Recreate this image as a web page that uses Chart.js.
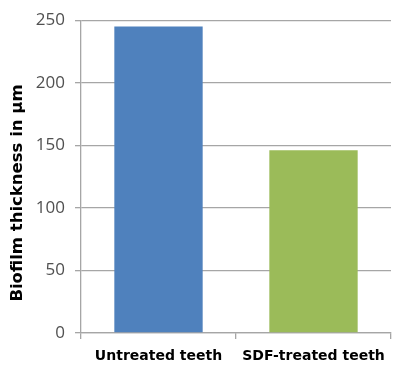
<!DOCTYPE html>
<html>
<head>
<meta charset="utf-8">
<script src="https://cdn.jsdelivr.net/npm/chart.js@4"></script>
<style>
  html, body { margin: 0; padding: 0; background: #fff; }
  #wrap { width: 400px; height: 373px; }
</style>
</head>
<body>
<div id="wrap"><canvas id="grafico" width="400" height="373"></canvas></div>
<script>
// DATI
const categorie = ['Untreated teeth', 'SDF-treated teeth'];
const spessore = [245, 146];
const coloriBarre = ['#4f81bd', '#9bbb59'];
const yTicks = [0, 50, 100, 150, 200, 250];
const titoloY = 'Biofilm thickness in µm';

const canvas = document.getElementById('grafico');

// titolo asse Y, centrato sull'altezza del grafico come in Excel
const titoloAsse = {
  id: 'titoloAsse',
  afterDraw(chart) {
    const ctx = chart.ctx;
    ctx.save();
    ctx.translate(18, 193);
    ctx.rotate(-Math.PI / 2);
    ctx.font = 'bold 16.5px "DejaVu Sans"';
    ctx.fillStyle = '#000';
    ctx.textAlign = 'center';
    ctx.textBaseline = 'middle';
    ctx.fillText(titoloY, 0, 0);
    ctx.restore();
  }
};

new Chart(canvas, {
  type: 'bar',
  data: {
    labels: categorie,
    datasets: [{
      data: spessore,
      backgroundColor: coloriBarre,
      borderWidth: 0,
      categoryPercentage: 1,
      barPercentage: 0.57
    }]
  },
  plugins: [titoloAsse],
  options: {
    responsive: false,
    animation: false,
    layout: { padding: { left: 9, right: 9, top: 19, bottom: 0 } },
    plugins: {
      legend: { display: false },
      tooltip: { enabled: false }
    },
    scales: {
      y: {
        min: 0,
        max: 250,
        afterBuildTicks: axis => { axis.ticks = yTicks.map(v => ({ value: v })); },
        afterFit: axis => { axis.width = 72; },
        ticks: {
          font: { family: 'Open Sans', size: 17 },
          color: '#505050',
          padding: 10
        },
        grid: { color: '#a6a6a6', lineWidth: 1.3, tickLength: 6 },
        border: { color: '#a6a6a6', width: 1.3 }
      },
      x: {
        afterFit: axis => { axis.height = 40; },
        ticks: {
          font: { family: 'DejaVu Sans', size: 14, weight: 'bold' },
          color: '#000',
          padding: 9
        },
        grid: { drawOnChartArea: false, color: '#a6a6a6', lineWidth: 1.3, tickLength: 6, offset: true },
        border: { color: '#a6a6a6', width: 1.3 }
      }
    }
  }
});
</script>
</body>
</html>
